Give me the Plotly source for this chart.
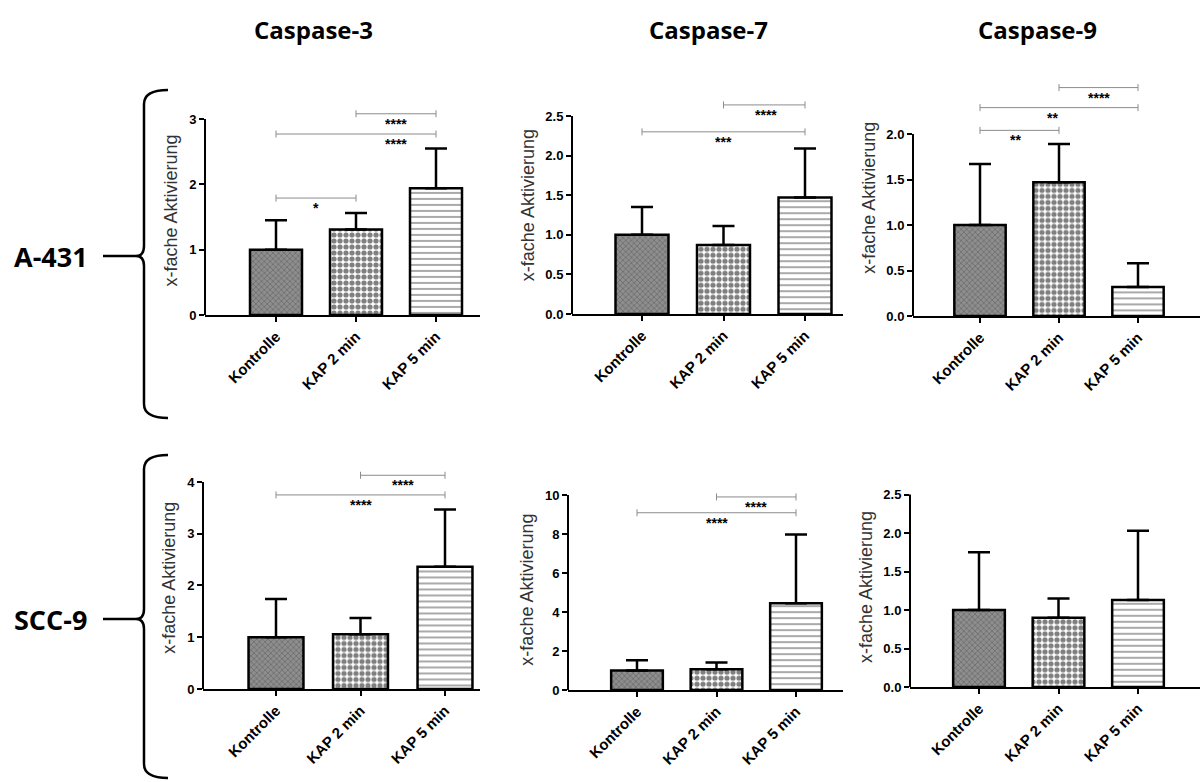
import plotly.graph_objects as go

W, H = 1202, 782

# ---------------- data ----------------
categories = ["Kontrolle", "KAP 2 min", "KAP 5 min"]
caspases = ["Caspase-3", "Caspase-7", "Caspase-9"]
cell_lines = ["A-431", "SCC-9"]
y_title = "x-fache Aktivierung"

a431_casp3_mean = [1.00, 1.31, 1.94]
a431_casp3_sd = [0.45, 0.25, 0.61]
a431_casp7_mean = [1.00, 0.87, 1.47]
a431_casp7_sd = [0.35, 0.24, 0.62]
a431_casp9_mean = [1.00, 1.47, 0.32]
a431_casp9_sd = [0.67, 0.42, 0.26]
scc9_casp3_mean = [1.00, 1.06, 2.36]
scc9_casp3_sd = [0.74, 0.31, 1.11]
scc9_casp7_mean = [1.00, 1.07, 4.45]
scc9_casp7_sd = [0.52, 0.34, 3.52]
scc9_casp9_mean = [1.00, 0.90, 1.13]
scc9_casp9_sd = [0.75, 0.25, 0.90]

# significance comparisons: (group a, group b, bracket height, stars, label x)
a431_casp3_sig = [("Kontrolle", "KAP 2 min", 1.79, "*", 0.5),
                  ("Kontrolle", "KAP 5 min", 2.77, "****", 1.5),
                  ("KAP 2 min", "KAP 5 min", 3.08, "****", 1.5)]
a431_casp7_sig = [("Kontrolle", "KAP 5 min", 2.30, "***", 1.0),
                  ("KAP 2 min", "KAP 5 min", 2.64, "****", 1.52)]
a431_casp9_sig = [("Kontrolle", "KAP 2 min", 2.04, "**", 0.45),
                  ("Kontrolle", "KAP 5 min", 2.29, "**", 0.92),
                  ("KAP 2 min", "KAP 5 min", 2.51, "****", 1.5)]
scc9_casp3_sig = [("Kontrolle", "KAP 5 min", 3.75, "****", 1.0),
                  ("KAP 2 min", "KAP 5 min", 4.13, "****", 1.5)]
scc9_casp7_sig = [("Kontrolle", "KAP 5 min", 9.09, "****", 1.0),
                  ("KAP 2 min", "KAP 5 min", 9.90, "****", 1.5)]
scc9_casp9_sig = []

panels_data = [
    (a431_casp3_mean, a431_casp3_sd, a431_casp3_sig),
    (a431_casp7_mean, a431_casp7_sd, a431_casp7_sig),
    (a431_casp9_mean, a431_casp9_sd, a431_casp9_sig),
    (scc9_casp3_mean, scc9_casp3_sd, scc9_casp3_sig),
    (scc9_casp7_mean, scc9_casp7_sd, scc9_casp7_sig),
    (scc9_casp9_mean, scc9_casp9_sd, scc9_casp9_sig),
]

# ---------------- layout geometry (pixels) ----------------
# x: left px, right px, first-category px, category spacing px
x_geom = [(205, 480, 276, 80), (572, 843, 642, 81.5), (913, 1200, 980, 79),
          (203, 480, 276, 84.5), (568, 843, 637, 79.5), (910, 1200, 979, 79.5)]
# y: zero px, top tick value, top tick px, dtick, range top value, tickformat
y_geom = [(315, 3, 119, 1, 3.2, "d"), (314, 2.5, 116, 0.5, 2.75, ".1f"),
          (316, 2.0, 134, 0.5, 2.6, ".1f"), (689, 4, 482, 1, 4.3, "d"),
          (690, 10, 495, 2, 10.3, "d"), (687, 2.5, 494.5, 0.5, 2.6, ".1f")]

bar_styles = [
    dict(bg="#8e8e8e", fg="#3a3a3a", shape="x", size=4, solidity=0.3),
    dict(bg="#ffffff", fg="#000000", shape=".", size=6, solidity=0.6),
    dict(bg="#ffffff", fg="#555555", shape="-", size=6, solidity=0.33),
]

tick_font = dict(family="Liberation Sans, Arial", size=13, color="black", weight="bold")

fig = go.Figure()
layout = dict(width=W, height=H, margin=dict(l=0, r=0, t=0, b=0),
              paper_bgcolor="white", plot_bgcolor="white", showlegend=False,
              template="none", barmode="overlay")
shapes = []
annotations = []

for k, (mean, sd, sig) in enumerate(panels_data, start=1):
    xs = "" if k == 1 else str(k)
    xa, ya = "x" + xs, "y" + xs
    xl, xr, c0, sp = x_geom[k - 1]
    zp, tmax, tpx, dt, rtop, tf = y_geom[k - 1]
    ppu = (zp - tpx) / tmax
    top_px = zp - rtop * ppu

    for i, cat in enumerate(categories):
        st = bar_styles[i]
        fig.add_trace(go.Bar(
            x=[cat], y=[mean[i]], width=0.65, xaxis=xa, yaxis=ya,
            marker=dict(
                color=st["bg"],
                line=dict(color="black", width=2.5),
                pattern=dict(shape=st["shape"], fgcolor=st["fg"], bgcolor=st["bg"],
                             size=st["size"], solidity=st["solidity"], fillmode="overlay"),
            ),
            error_y=dict(type="data", symmetric=False, array=[sd[i]], arrayminus=[0],
                         color="black", thickness=2.5, width=11),
            hoverinfo="skip",
        ))

    for (a, b, h, stars, lx) in sig:
        fig.add_trace(go.Scatter(
            x=[a, b], y=[h, h], xaxis=xa, yaxis=ya, mode="lines+markers",
            line=dict(color="#8c8c8c", width=1),
            marker=dict(symbol="line-ns", size=5, line=dict(color="#8c8c8c", width=1)),
            hoverinfo="skip",
        ))
        annotations.append(dict(x=lx, y=h, xref=xa, yref=ya, text=stars, showarrow=False,
                                yanchor="top", yshift=0,
                                font=dict(family="Liberation Sans, Arial", size=14,
                                          color="black", weight="bold")))

    tickvals = []
    v = 0.0
    while v <= tmax + 1e-9:
        tickvals.append(round(v, 3))
        v += dt

    layout["xaxis" + xs] = dict(
        domain=[xl / W, xr / W], anchor=ya,
        range=[(xl - c0) / sp, (xr - c0) / sp],
        categoryorder="array", categoryarray=categories,
        showline=True, linecolor="black", linewidth=2,
        ticks="outside", ticklen=5, tickwidth=2, tickcolor="black",
        tickangle=-45, tickfont=dict(family="Liberation Sans, Arial", size=15,
                                     color="black", weight="bold"),
        showgrid=False, zeroline=False, fixedrange=True,
    )
    layout["yaxis" + xs] = dict(
        domain=[1 - zp / H, 1 - top_px / H], anchor=xa,
        range=[0, rtop], tickvals=tickvals, tickformat=tf,
        showline=False, ticks="outside", ticklen=5, tickwidth=2, tickcolor="black",
        tickfont=tick_font, showgrid=False, zeroline=False, fixedrange=True,
        title=dict(text=y_title, standoff=6,
                   font=dict(family="Liberation Sans, Arial", size=18, color="#333333")),
    )
    # y axis line up to the top tick only
    shapes.append(dict(type="line", xref="paper", yref=ya, x0=xl / W, x1=xl / W,
                       y0=0, y1=tmax, line=dict(color="black", width=2)))

# column titles
col_centers = [313, 708, 1037]
for name, cx in zip(caspases, col_centers):
    annotations.append(dict(x=cx / W, y=1 - 30 / H, xref="paper", yref="paper",
                            text=name, showarrow=False, xanchor="center", yanchor="middle",
                            font=dict(family="Open Sans", size=24, color="black",
                                      weight="bold")))

# row labels with braces
row_geom = [(256, 90, 418), (619, 455, 778)]
for name, (mid, top, bot) in zip(cell_lines, row_geom):
    annotations.append(dict(x=51 / W, y=1 - mid / H, xref="paper", yref="paper",
                            text=name, showarrow=False, xanchor="center", yanchor="middle",
                            font=dict(family="Open Sans", size=27, color="black",
                                      weight="bold")))

    def P(px, py):
        return f"{px / W:.5f},{1 - py / H:.5f}"

    xb, xh, xt = 144, 168, 136
    path = (f"M {P(xh, top)} Q {P(xb, top)} {P(xb, top + 14)} "
            f"L {P(xb, mid - 10)} Q {P(xb, mid)} {P(xt, mid)} "
            f"Q {P(xb, mid)} {P(xb, mid + 10)} "
            f"L {P(xb, bot - 14)} Q {P(xb, bot)} {P(xh, bot)}")
    shapes.append(dict(type="path", xref="paper", yref="paper", path=path,
                       line=dict(color="black", width=2.5)))
    shapes.append(dict(type="line", xref="paper", yref="paper",
                       x0=103 / W, x1=136 / W, y0=1 - mid / H, y1=1 - mid / H,
                       line=dict(color="black", width=2.5)))

layout["shapes"] = shapes
layout["annotations"] = annotations
fig.update_layout(**layout)

fig.write_html("out.html",
               config={"displayModeBar": False},
               post_script="document.body.style.margin='0px';"
                           "document.body.style.overflow='hidden';")
